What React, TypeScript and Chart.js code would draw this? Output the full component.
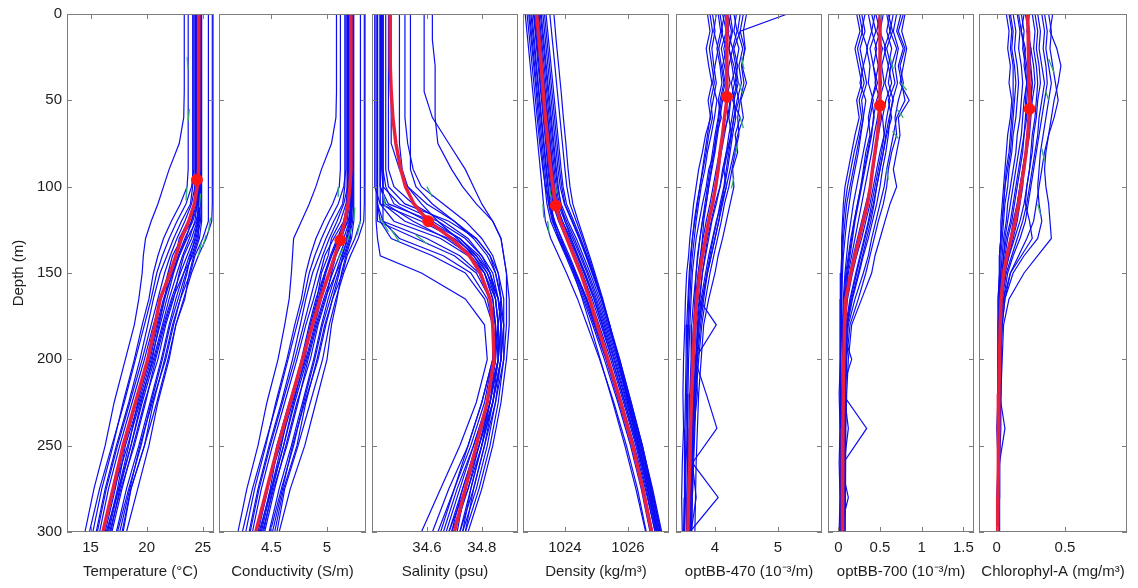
import React, { useEffect, useRef } from 'react';
import { Chart, registerables } from 'chart.js';
Chart.register(...registerables);

// ---------- depth grids ----------
const DEPTH = [0, 15, 30, 45, 60, 75, 90, 100, 110, 120, 130, 140, 150, 165, 180, 200, 225, 250, 275, 300];
const OPT_DEPTH = [0, 10, 20, 30, 40, 50, 60, 70, 80, 90, 100, 110, 120, 130, 140, 150, 165, 180, 200, 220, 240, 260, 280, 300];
const DEPTH_TICKS = [0, 50, 100, 150, 200, 250, 300];

// ---------- Temperature ----------
const TEMP_TICKS = [15, 20, 25];
const TEMP_MEAN = [24.65, 24.65, 24.65, 24.64, 24.63, 24.62, 24.58, 24.5, 24.25, 23.75, 23.1, 22.6, 22.1, 21.2, 20.75, 20.1, 19.0, 17.9, 17.0, 16.1];
const TEMP_STAR = [24.48, 96];
const TEMP_PROFILES = [
  [23.35, 23.35, 23.35, 23.35, 23.3, 22.9, 22.0, 21.5, 21.0, 20.4, 19.9, 19.7, 19.6, 19.3, 18.9, 18.1, 17.1, 16.3, 15.3, 14.5],
  [23.7, 23.7, 23.7, 23.7, 23.7, 23.7, 23.7, 23.6, 23.0, 22.2, 21.5, 21.0, 20.6, 20.2, 19.6, 18.9, 17.9, 17.0, 16.0, 15.2],
  [24.1, 24.1, 24.1, 24.1, 24.1, 24.1, 24.1, 24.1, 23.9, 23.1, 22.4, 21.8, 21.2, 20.6, 20.1, 19.4, 18.4, 17.3, 16.3, 15.5],
  [24.3, 24.3, 24.3, 24.3, 24.3, 24.3, 24.3, 24.3, 24.3, 24.0, 23.1, 22.3, 21.9, 21.3, 20.6, 19.8, 18.7, 17.6, 16.6, 15.8],
  [24.4, 24.4, 24.4, 24.4, 24.4, 24.4, 24.4, 24.4, 24.2, 23.7, 22.9, 22.6, 22.0, 21.6, 21.0, 20.3, 19.1, 18.0, 17.2, 16.3],
  [24.5, 24.5, 24.5, 24.5, 24.5, 24.5, 24.5, 24.5, 24.5, 24.3, 23.8, 23.2, 22.7, 22.0, 21.4, 20.6, 19.4, 18.3, 17.1, 16.1],
  [24.6, 24.6, 24.6, 24.6, 24.6, 24.6, 24.6, 24.6, 24.6, 24.5, 24.0, 23.3, 22.9, 22.4, 21.7, 21.0, 19.8, 18.8, 17.8, 16.9],
  [24.7, 24.7, 24.7, 24.7, 24.7, 24.7, 24.7, 24.7, 24.7, 24.7, 24.4, 23.8, 23.3, 22.6, 22.0, 21.3, 20.3, 19.3, 18.2, 17.3],
  [24.8, 24.8, 24.8, 24.8, 24.8, 24.8, 24.8, 24.8, 24.8, 24.6, 24.3, 23.9, 23.6, 23.0, 22.3, 21.6, 20.6, 19.8, 18.6, 17.8],
  [24.9, 24.9, 24.9, 24.9, 24.9, 24.9, 24.9, 24.9, 24.9, 24.9, 24.7, 24.2, 23.8, 23.4, 22.6, 22.0, 21.0, 20.2, 19.2, 18.2],
  [25.5, 25.5, 25.5, 25.5, 25.5, 25.5, 25.5, 25.5, 25.5, 25.5, 25.0, 24.3, 23.9, 23.0, 22.4, 21.7, 20.5, 19.4, 18.5, 17.6],
  [25.85, 25.85, 25.85, 25.85, 25.85, 25.85, 25.85, 25.85, 25.85, 25.8, 25.3, 24.6, 24.0, 23.3, 22.6, 21.9, 20.9, 19.8, 18.6, 17.9],
  [24.2, 24.2, 24.2, 24.2, 24.2, 24.2, 24.2, 24.0, 23.5, 22.7, 22.0, 21.4, 20.9, 20.4, 19.8, 19.0, 18.0, 16.9, 15.8, 14.9],
  [24.6, 24.6, 24.6, 24.6, 24.6, 24.6, 24.6, 24.6, 24.6, 24.6, 24.6, 24.1, 23.3, 22.3, 21.6, 20.8, 19.9, 18.9, 17.7, 16.7],
  [24.45, 24.45, 24.45, 24.45, 24.45, 24.45, 24.45, 24.45, 24.4, 24.0, 23.5, 22.9, 22.4, 21.8, 21.2, 20.4, 19.3, 18.1, 17.4, 16.5],
  [24.75, 24.75, 24.75, 24.75, 24.75, 24.75, 24.75, 24.75, 24.7, 24.4, 23.6, 22.9, 22.3, 21.5, 20.9, 20.2, 19.2, 18.4, 17.5, 16.6],
  [24.55, 24.55, 24.55, 24.55, 24.55, 24.55, 24.55, 24.55, 24.5, 24.1, 23.4, 22.8, 22.3, 21.6, 21.1, 20.5, 19.5, 18.6, 17.6, 16.8],
  [24.35, 24.35, 24.35, 24.35, 24.35, 24.35, 24.35, 24.3, 24.0, 23.4, 22.7, 22.1, 21.6, 21.0, 20.4, 19.6, 18.5, 17.4, 16.4, 15.6],
  [24.65, 24.65, 24.65, 24.65, 24.65, 24.65, 24.65, 24.65, 24.65, 24.55, 24.2, 23.6, 23.0, 22.2, 21.5, 20.7, 19.6, 18.6, 17.5, 16.4],
  [24.85, 24.85, 24.85, 24.85, 24.85, 24.85, 24.85, 24.85, 24.85, 24.8, 24.5, 24.0, 23.5, 22.8, 22.1, 21.4, 20.4, 19.5, 18.4, 17.4],
];
const TEMP_GREEN = [
  [[23.6, 25], [23.7, 32]],
  [[23.8, 55], [23.7, 62]],
  [[23.6, 100], [23.5, 108]],
  [[24.8, 104], [24.7, 112]],
  [[25.7, 118], [25.5, 126]],
  [[25.3, 128], [25.0, 135]],
  [[24.9, 132], [24.6, 140]],
];

// ---------- Conductivity ----------
const COND_TICKS = [4.5, 5];
const COND_MEAN = [5.215, 5.215, 5.215, 5.215, 5.215, 5.215, 5.21, 5.205, 5.19, 5.16, 5.12, 5.07, 5.02, 4.94, 4.87, 4.78, 4.67, 4.56, 4.46, 4.36];
const COND_STAR = [5.12, 131];
const COND_PROFILES = [
  [5.085, 5.085, 5.085, 5.085, 5.08, 5.04, 4.95, 4.90, 4.84, 4.77, 4.70, 4.69, 4.68, 4.66, 4.62, 4.56, 4.46, 4.38, 4.28, 4.20],
  [5.12, 5.12, 5.12, 5.12, 5.12, 5.12, 5.12, 5.11, 5.05, 4.97, 4.90, 4.85, 4.81, 4.77, 4.71, 4.64, 4.54, 4.45, 4.35, 4.27],
  [5.16, 5.16, 5.16, 5.16, 5.16, 5.16, 5.16, 5.16, 5.14, 5.06, 4.99, 4.93, 4.87, 4.81, 4.76, 4.69, 4.59, 4.48, 4.38, 4.30],
  [5.18, 5.18, 5.18, 5.18, 5.18, 5.18, 5.18, 5.18, 5.18, 5.15, 5.06, 4.98, 4.94, 4.88, 4.81, 4.73, 4.62, 4.51, 4.41, 4.33],
  [5.19, 5.19, 5.19, 5.19, 5.19, 5.19, 5.19, 5.19, 5.17, 5.12, 5.04, 5.01, 4.95, 4.91, 4.85, 4.78, 4.66, 4.55, 4.47, 4.38],
  [5.20, 5.20, 5.20, 5.20, 5.20, 5.20, 5.20, 5.20, 5.20, 5.18, 5.13, 5.07, 5.02, 4.95, 4.89, 4.81, 4.69, 4.58, 4.46, 4.36],
  [5.21, 5.21, 5.21, 5.21, 5.21, 5.21, 5.21, 5.21, 5.21, 5.20, 5.15, 5.08, 5.04, 4.99, 4.92, 4.85, 4.73, 4.63, 4.53, 4.44],
  [5.22, 5.22, 5.22, 5.22, 5.22, 5.22, 5.22, 5.22, 5.22, 5.22, 5.19, 5.13, 5.08, 5.01, 4.95, 4.88, 4.78, 4.68, 4.57, 4.48],
  [5.23, 5.23, 5.23, 5.23, 5.23, 5.23, 5.23, 5.23, 5.23, 5.21, 5.18, 5.14, 5.11, 5.05, 4.98, 4.91, 4.81, 4.73, 4.61, 4.53],
  [5.24, 5.24, 5.24, 5.24, 5.24, 5.24, 5.24, 5.24, 5.24, 5.24, 5.22, 5.17, 5.13, 5.09, 5.04, 5.00, 4.90, 4.80, 4.67, 4.57],
  [5.30, 5.30, 5.30, 5.30, 5.30, 5.30, 5.30, 5.30, 5.30, 5.30, 5.25, 5.18, 5.14, 5.05, 4.99, 4.92, 4.80, 4.69, 4.60, 4.51],
  [5.335, 5.335, 5.335, 5.335, 5.335, 5.335, 5.335, 5.335, 5.335, 5.33, 5.28, 5.21, 5.15, 5.08, 5.02, 4.96, 4.85, 4.74, 4.62, 4.55],
  [5.17, 5.17, 5.17, 5.17, 5.17, 5.17, 5.17, 5.15, 5.10, 5.02, 4.95, 4.89, 4.84, 4.79, 4.73, 4.65, 4.55, 4.44, 4.33, 4.24],
  [5.21, 5.21, 5.21, 5.21, 5.21, 5.21, 5.21, 5.21, 5.21, 5.21, 5.21, 5.16, 5.08, 4.98, 4.91, 4.83, 4.74, 4.64, 4.52, 4.42],
  [5.195, 5.195, 5.195, 5.195, 5.195, 5.195, 5.195, 5.195, 5.19, 5.15, 5.10, 5.04, 4.99, 4.93, 4.87, 4.79, 4.68, 4.56, 4.49, 4.40],
  [5.225, 5.225, 5.225, 5.225, 5.225, 5.225, 5.225, 5.225, 5.22, 5.19, 5.11, 5.04, 4.98, 4.90, 4.84, 4.77, 4.67, 4.59, 4.50, 4.41],
  [5.205, 5.205, 5.205, 5.205, 5.205, 5.205, 5.205, 5.205, 5.20, 5.16, 5.09, 5.03, 4.98, 4.92, 4.86, 4.80, 4.70, 4.61, 4.51, 4.43],
  [5.185, 5.185, 5.185, 5.185, 5.185, 5.185, 5.185, 5.18, 5.15, 5.09, 5.02, 4.96, 4.91, 4.85, 4.79, 4.71, 4.60, 4.49, 4.39, 4.31],
  [5.215, 5.215, 5.215, 5.215, 5.215, 5.215, 5.215, 5.215, 5.215, 5.205, 5.17, 5.11, 5.05, 4.97, 4.90, 4.82, 4.71, 4.61, 4.50, 4.39],
  [5.235, 5.235, 5.235, 5.235, 5.235, 5.235, 5.235, 5.235, 5.235, 5.23, 5.20, 5.15, 5.10, 5.03, 4.96, 4.89, 4.79, 4.70, 4.59, 4.49],
];
const COND_GREEN = [
  [[5.10, 100], [5.10, 106]],
  [[5.25, 112], [5.24, 120]],
  [[5.22, 124], [5.18, 132]],
  [[5.30, 120], [5.27, 128]],
  [[5.15, 135], [5.10, 142]],
];

// ---------- Salinity ----------
const SAL_TICKS = [34.6, 34.8];
const SAL_MEAN = [34.466, 34.466, 34.467, 34.47, 34.476, 34.487, 34.505, 34.522, 34.553, 34.605, 34.69, 34.755, 34.795, 34.83, 34.84, 34.845, 34.82, 34.78, 34.74, 34.70];
const SAL_STAR = [34.605, 120];
const SAL_PROFILES = [
  [34.62, 34.62, 34.63, 34.63, 34.63, 34.64, 34.69, 34.73, 34.78, 34.84, 34.87, 34.88, 34.89, 34.89, 34.89, 34.88, 34.86, 34.83, 34.79, 34.74],
  [34.59, 34.59, 34.59, 34.59, 34.62, 34.68, 34.74, 34.77, 34.80, 34.84, 34.87, 34.88, 34.89, 34.90, 34.90, 34.89, 34.87, 34.84, 34.80, 34.75],
  [34.54, 34.54, 34.54, 34.54, 34.54, 34.54, 34.54, 34.56, 34.62, 34.70, 34.77, 34.82, 34.85, 34.87, 34.87, 34.86, 34.82, 34.78, 34.73, 34.69],
  [34.52, 34.52, 34.52, 34.52, 34.52, 34.53, 34.55, 34.58, 34.66, 34.74, 34.80, 34.84, 34.86, 34.87, 34.86, 34.84, 34.80, 34.75, 34.70, 34.65],
  [34.42, 34.42, 34.42, 34.42, 34.42, 34.42, 34.42, 34.42, 34.42, 34.44, 34.60, 34.72, 34.79, 34.83, 34.85, 34.85, 34.82, 34.77, 34.72, 34.67],
  [34.43, 34.43, 34.43, 34.43, 34.43, 34.43, 34.43, 34.43, 34.46, 34.62, 34.72, 34.78, 34.82, 34.85, 34.86, 34.86, 34.83, 34.79, 34.74, 34.70],
  [34.44, 34.44, 34.44, 34.44, 34.44, 34.44, 34.44, 34.44, 34.44, 34.44, 34.50, 34.66, 34.76, 34.82, 34.84, 34.84, 34.80, 34.75, 34.68, 34.62],
  [34.45, 34.45, 34.45, 34.45, 34.45, 34.45, 34.45, 34.46, 34.52, 34.68, 34.78, 34.83, 34.86, 34.88, 34.88, 34.87, 34.84, 34.80, 34.76, 34.72],
  [34.415, 34.415, 34.415, 34.415, 34.415, 34.415, 34.415, 34.415, 34.415, 34.415, 34.42, 34.43, 34.58, 34.74, 34.81, 34.82, 34.78, 34.72, 34.65, 34.58],
  [34.46, 34.46, 34.46, 34.46, 34.46, 34.46, 34.46, 34.48, 34.55, 34.66, 34.75, 34.80, 34.83, 34.85, 34.86, 34.85, 34.82, 34.78, 34.74, 34.71],
  [34.43, 34.43, 34.43, 34.43, 34.43, 34.43, 34.43, 34.43, 34.43, 34.48, 34.65, 34.75, 34.81, 34.84, 34.85, 34.84, 34.81, 34.76, 34.70, 34.64],
  [34.47, 34.47, 34.47, 34.47, 34.47, 34.47, 34.50, 34.53, 34.58, 34.64, 34.71, 34.77, 34.81, 34.84, 34.85, 34.85, 34.83, 34.80, 34.76, 34.73],
  [34.44, 34.44, 34.44, 34.44, 34.44, 34.44, 34.44, 34.44, 34.44, 34.52, 34.68, 34.77, 34.82, 34.86, 34.87, 34.86, 34.83, 34.79, 34.74, 34.68],
  [34.42, 34.42, 34.42, 34.42, 34.42, 34.42, 34.42, 34.42, 34.42, 34.42, 34.56, 34.70, 34.78, 34.83, 34.85, 34.86, 34.84, 34.81, 34.77, 34.74],
  [34.41, 34.41, 34.41, 34.41, 34.41, 34.41, 34.41, 34.41, 34.43, 34.58, 34.70, 34.78, 34.83, 34.86, 34.88, 34.88, 34.85, 34.81, 34.77, 34.72],
  [34.435, 34.435, 34.435, 34.435, 34.435, 34.435, 34.435, 34.44, 34.50, 34.64, 34.74, 34.80, 34.84, 34.86, 34.87, 34.87, 34.84, 34.80, 34.75, 34.69],
  [34.43, 34.43, 34.43, 34.43, 34.43, 34.43, 34.43, 34.43, 34.45, 34.55, 34.67, 34.76, 34.81, 34.85, 34.86, 34.86, 34.83, 34.78, 34.73, 34.68],
  [34.42, 34.42, 34.42, 34.42, 34.42, 34.42, 34.42, 34.42, 34.42, 34.43, 34.47, 34.62, 34.74, 34.81, 34.84, 34.85, 34.82, 34.77, 34.71, 34.66],
  [34.50, 34.50, 34.50, 34.50, 34.50, 34.50, 34.51, 34.53, 34.60, 34.70, 34.78, 34.83, 34.85, 34.87, 34.88, 34.87, 34.84, 34.79, 34.75, 34.70],
  [34.44, 34.44, 34.44, 34.44, 34.44, 34.44, 34.44, 34.45, 34.48, 34.60, 34.72, 34.79, 34.83, 34.86, 34.87, 34.87, 34.85, 34.82, 34.78, 34.73],
];
const SAL_GREEN = [
  [[34.44, 104], [34.45, 112]],
  [[34.43, 118], [34.46, 126]],
  [[34.47, 125], [34.50, 132]],
  [[34.60, 100], [34.62, 106]],
  [[34.56, 128], [34.60, 133]],
];

// ---------- Density ----------
const DENS_TICKS = [1024, 1026];
const DENS_MEAN = [1023.10, 1023.18, 1023.25, 1023.31, 1023.38, 1023.46, 1023.55, 1023.62, 1023.70, 1023.85, 1024.06, 1024.28, 1024.50, 1024.78, 1025.02, 1025.36, 1025.77, 1026.15, 1026.47, 1026.75];
const DENS_STAR = [1023.71, 111];
const DENS_PROFILES = [
  [1022.74, 1022.82, 1022.90, 1022.98, 1023.06, 1023.14, 1023.22, 1023.27, 1023.32, 1023.38, 1023.55, 1023.80, 1024.05, 1024.40, 1024.70, 1025.10, 1025.55, 1025.95, 1026.30, 1026.58],
  [1022.85, 1022.93, 1023.01, 1023.09, 1023.16, 1023.24, 1023.32, 1023.37, 1023.43, 1023.55, 1023.78, 1024.02, 1024.25, 1024.58, 1024.88, 1025.25, 1025.68, 1026.08, 1026.42, 1026.70],
  [1022.95, 1023.03, 1023.10, 1023.18, 1023.26, 1023.34, 1023.42, 1023.47, 1023.53, 1023.66, 1023.90, 1024.14, 1024.36, 1024.70, 1024.98, 1025.35, 1025.78, 1026.17, 1026.50, 1026.78],
  [1023.02, 1023.10, 1023.18, 1023.25, 1023.33, 1023.41, 1023.49, 1023.55, 1023.62, 1023.80, 1024.04, 1024.26, 1024.48, 1024.80, 1025.08, 1025.45, 1025.86, 1026.25, 1026.58, 1026.86],
  [1023.08, 1023.16, 1023.24, 1023.32, 1023.40, 1023.47, 1023.55, 1023.60, 1023.70, 1023.92, 1024.18, 1024.40, 1024.62, 1024.92, 1025.20, 1025.55, 1025.95, 1026.33, 1026.66, 1026.95],
  [1023.15, 1023.23, 1023.30, 1023.38, 1023.46, 1023.54, 1023.62, 1023.68, 1023.78, 1024.00, 1024.25, 1024.48, 1024.70, 1025.00, 1025.28, 1025.62, 1026.02, 1026.40, 1026.72, 1027.02],
  [1023.22, 1023.30, 1023.38, 1023.46, 1023.54, 1023.62, 1023.70, 1023.76, 1023.88, 1024.10, 1024.36, 1024.58, 1024.80, 1025.10, 1025.36, 1025.70, 1026.08, 1026.45, 1026.78, 1027.07],
  [1023.30, 1023.38, 1023.46, 1023.54, 1023.62, 1023.70, 1023.78, 1023.85, 1023.98, 1024.22, 1024.45, 1024.66, 1024.86, 1025.15, 1025.40, 1025.73, 1026.10, 1026.46, 1026.76, 1027.04],
  [1023.40, 1023.48, 1023.56, 1023.64, 1023.72, 1023.80, 1023.88, 1023.94, 1024.05, 1024.28, 1024.50, 1024.70, 1024.90, 1025.16, 1025.40, 1025.70, 1026.05, 1026.40, 1026.70, 1026.98],
  [1023.52, 1023.60, 1023.68, 1023.76, 1023.84, 1023.92, 1024.00, 1024.06, 1024.16, 1024.36, 1024.56, 1024.74, 1024.92, 1025.18, 1025.42, 1025.70, 1026.02, 1026.36, 1026.66, 1026.94],
  [1023.65, 1023.72, 1023.80, 1023.88, 1023.95, 1024.03, 1024.10, 1024.16, 1024.25, 1024.42, 1024.60, 1024.78, 1024.95, 1025.20, 1025.42, 1025.68, 1026.00, 1026.32, 1026.62, 1026.90],
  [1022.80, 1022.88, 1022.96, 1023.04, 1023.12, 1023.20, 1023.30, 1023.38, 1023.50, 1023.68, 1023.88, 1024.08, 1024.28, 1024.55, 1024.80, 1025.12, 1025.52, 1025.90, 1026.25, 1026.56],
  [1023.00, 1023.08, 1023.15, 1023.23, 1023.31, 1023.39, 1023.46, 1023.52, 1023.57, 1023.64, 1023.80, 1024.05, 1024.32, 1024.68, 1024.98, 1025.38, 1025.80, 1026.20, 1026.55, 1026.86],
  [1023.12, 1023.20, 1023.28, 1023.36, 1023.44, 1023.52, 1023.60, 1023.66, 1023.74, 1023.92, 1024.14, 1024.38, 1024.60, 1024.92, 1025.18, 1025.50, 1025.90, 1026.28, 1026.62, 1026.92],
  [1022.92, 1023.00, 1023.08, 1023.16, 1023.24, 1023.32, 1023.40, 1023.46, 1023.52, 1023.62, 1023.82, 1024.06, 1024.30, 1024.62, 1024.92, 1025.30, 1025.72, 1026.12, 1026.46, 1026.76],
  [1023.25, 1023.33, 1023.41, 1023.49, 1023.57, 1023.65, 1023.73, 1023.79, 1023.86, 1024.00, 1024.20, 1024.42, 1024.64, 1024.96, 1025.24, 1025.58, 1025.98, 1026.36, 1026.68, 1026.98],
  [1023.05, 1023.13, 1023.21, 1023.28, 1023.36, 1023.44, 1023.52, 1023.58, 1023.65, 1023.84, 1024.10, 1024.33, 1024.55, 1024.86, 1025.14, 1025.50, 1025.91, 1026.30, 1026.62, 1026.90],
  [1023.18, 1023.26, 1023.34, 1023.42, 1023.50, 1023.58, 1023.66, 1023.72, 1023.82, 1024.05, 1024.30, 1024.52, 1024.74, 1025.05, 1025.32, 1025.66, 1026.05, 1026.42, 1026.74, 1027.03],
  [1022.88, 1022.96, 1023.04, 1023.12, 1023.20, 1023.28, 1023.36, 1023.42, 1023.48, 1023.60, 1023.84, 1024.10, 1024.34, 1024.66, 1024.95, 1025.32, 1025.74, 1026.14, 1026.48, 1026.77],
  [1023.35, 1023.43, 1023.51, 1023.59, 1023.67, 1023.75, 1023.83, 1023.90, 1024.00, 1024.24, 1024.47, 1024.68, 1024.88, 1025.17, 1025.42, 1025.74, 1026.10, 1026.45, 1026.75, 1027.02],
];
const DENS_GREEN = [
  [[1023.50, 100], [1023.55, 106]],
  [[1023.30, 110], [1023.33, 118]],
  [[1023.45, 120], [1023.50, 127]],
  [[1023.70, 98], [1023.72, 104]],
];

// ---------- optBB-470 ----------
const B470_TICKS = [4, 5];
const B470_MEAN = [4.19, 4.19, 4.19, 4.19, 4.19, 4.18, 4.15, 4.12, 4.08, 4.05, 4.01, 3.96, 3.90, 3.85, 3.80, 3.76, 3.71, 3.68, 3.65, 3.63, 3.61, 3.60, 3.58, 3.57];
const B470_STAR = [4.19, 48];
const B470_PROFILES = [
  [3.88, 3.92, 3.86, 3.90, 3.95, 3.89, 3.93, 3.85, 3.80, 3.74, 3.70, 3.66, 3.63, 3.60, 3.58, 3.55, 3.53, 3.52, 3.50, 3.49, 3.50, 3.48, 3.47, 3.48],
  [4.02, 3.98, 4.05, 4.00, 3.96, 4.03, 3.99, 3.94, 3.88, 3.84, 3.78, 3.74, 3.70, 3.67, 3.64, 3.62, 3.60, 3.58, 3.56, 3.55, 3.56, 3.54, 3.53, 3.52],
  [4.12, 4.18, 4.10, 4.15, 4.20, 4.12, 4.08, 4.04, 4.00, 3.95, 3.90, 3.86, 3.80, 3.76, 3.72, 3.70, 3.66, 3.63, 3.62, 3.60, 3.59, 3.58, 3.56, 3.55],
  [4.25, 4.20, 4.28, 4.22, 4.18, 4.24, 4.20, 4.15, 4.10, 4.06, 4.02, 3.96, 3.90, 3.84, 3.79, 3.75, 3.71, 3.67, 3.64, 3.62, 3.60, 3.60, 3.58, 3.57],
  [4.30, 4.35, 4.28, 4.33, 4.26, 4.31, 4.27, 4.22, 4.18, 4.12, 4.08, 4.02, 3.95, 3.90, 3.85, 3.80, 3.75, 3.70, 3.67, 3.65, 3.63, 3.62, 3.60, 3.59],
  [4.40, 4.36, 4.44, 4.38, 4.42, 4.35, 4.30, 4.26, 4.22, 4.18, 4.14, 4.08, 4.03, 3.97, 3.92, 3.87, 3.80, 3.75, 3.71, 3.68, 3.66, 3.64, 3.62, 3.61],
  [4.50, 4.45, 4.48, 4.42, 4.46, 4.40, 4.36, 4.38, 4.32, 4.27, 4.22, 4.15, 4.10, 4.04, 3.98, 3.92, 3.85, 3.79, 3.74, 3.70, 3.68, 3.66, 3.64, 3.63],
  [4.08, 4.12, 4.06, 4.10, 4.14, 4.08, 4.05, 4.00, 3.96, 3.92, 3.88, 3.84, 3.80, 3.76, 3.73, 3.70, 3.68, 3.66, 3.64, 3.63, 3.62, 3.61, 3.60, 3.60],
  [4.20, 4.26, 4.22, 4.30, 4.35, 4.28, 4.40, 4.32, 4.36, 4.28, 4.30, 4.24, 4.18, 4.12, 4.05, 4.00, 3.90, 3.82, 3.78, 3.74, 3.72, 3.70, 3.69, 3.68],
  [3.96, 4.00, 3.95, 3.98, 4.02, 3.97, 3.92, 3.88, 3.84, 3.80, 3.76, 3.72, 3.68, 3.64, 3.62, 3.60, 3.58, 3.57, 3.56, 3.55, 3.54, 3.53, 3.52, 3.51],
  [5.15, 4.40, 4.30, 4.36, 4.32, 4.38, 4.30, 4.25, 4.20, 4.14, 4.08, 4.00, 3.94, 3.88, 3.84, 3.80, 3.76, 3.72, 3.70, 3.72, 3.66, 3.64, 3.70, 3.62],
  [4.15, 4.10, 4.18, 4.12, 4.16, 4.10, 4.06, 4.02, 3.98, 3.94, 3.90, 3.86, 3.82, 3.80, 3.77, 3.74, 3.74, 4.02, 3.68, 3.86, 4.03, 3.64, 4.05, 3.60],
  [4.05, 4.09, 4.03, 4.08, 4.11, 4.05, 4.10, 4.02, 3.99, 3.90, 3.86, 3.80, 3.75, 3.70, 3.67, 3.64, 3.62, 3.60, 3.58, 3.57, 3.57, 3.56, 3.55, 3.55],
  [4.34, 4.30, 4.38, 4.33, 4.37, 4.30, 4.33, 4.28, 4.24, 4.20, 4.15, 4.10, 4.06, 4.00, 3.94, 3.88, 3.82, 3.77, 3.72, 3.69, 3.67, 3.65, 3.64, 3.62],
  [4.16, 4.22, 4.14, 4.19, 4.24, 4.17, 4.21, 4.13, 4.07, 4.02, 3.97, 3.92, 3.86, 3.81, 3.77, 3.73, 3.69, 3.66, 3.63, 3.61, 3.60, 3.59, 3.58, 3.57],
  [4.45, 4.40, 4.47, 4.43, 4.50, 4.41, 4.45, 4.36, 4.30, 4.24, 4.18, 4.12, 4.06, 4.00, 3.94, 3.88, 3.80, 3.74, 3.70, 3.67, 3.65, 3.64, 3.62, 3.61],
  [3.92, 3.96, 3.91, 3.95, 3.99, 3.93, 3.96, 3.90, 3.86, 3.81, 3.76, 3.71, 3.67, 3.64, 3.61, 3.59, 3.57, 3.55, 3.54, 3.53, 3.52, 3.52, 3.51, 3.50],
  [4.24, 4.28, 4.22, 4.27, 4.31, 4.25, 4.22, 4.26, 4.18, 4.14, 4.18, 4.10, 4.02, 3.96, 3.90, 3.85, 3.78, 3.73, 3.69, 3.66, 3.64, 3.63, 3.61, 3.60],
];
const B470_GREEN = [
  [[4.42, 25], [4.46, 32]],
  [[4.38, 40], [4.44, 46]],
  [[4.40, 60], [4.45, 66]],
  [[4.36, 75], [4.32, 82]],
  [[4.30, 95], [4.26, 101]],
];

// ---------- optBB-700 ----------
const B700_TICKS = [0, 0.5, 1, 1.5];
const B700_MEAN = [0.50, 0.50, 0.50, 0.50, 0.50, 0.50, 0.49, 0.47, 0.44, 0.41, 0.385, 0.35, 0.30, 0.25, 0.20, 0.15, 0.09, 0.075, 0.066, 0.06, 0.055, 0.052, 0.05, 0.047];
const B700_STAR = [0.50, 53];
const B700_PROFILES = [
  [0.22, 0.26, 0.20, 0.24, 0.28, 0.22, 0.25, 0.20, 0.16, 0.12, 0.08, 0.06, 0.05, 0.04, 0.04, 0.03, 0.03, 0.02, 0.02, 0.01, 0.02, 0.01, 0.02, 0.01],
  [0.32, 0.28, 0.35, 0.30, 0.26, 0.33, 0.30, 0.27, 0.24, 0.20, 0.16, 0.13, 0.10, 0.08, 0.06, 0.05, 0.04, 0.04, 0.03, 0.03, 0.03, 0.02, 0.03, 0.02],
  [0.40, 0.45, 0.38, 0.42, 0.47, 0.40, 0.36, 0.38, 0.33, 0.30, 0.27, 0.23, 0.19, 0.15, 0.12, 0.09, 0.07, 0.06, 0.05, 0.05, 0.04, 0.04, 0.04, 0.04],
  [0.50, 0.46, 0.53, 0.48, 0.44, 0.50, 0.47, 0.43, 0.40, 0.36, 0.32, 0.28, 0.24, 0.20, 0.16, 0.12, 0.09, 0.07, 0.06, 0.06, 0.05, 0.05, 0.05, 0.05],
  [0.58, 0.62, 0.55, 0.60, 0.64, 0.57, 0.53, 0.55, 0.50, 0.46, 0.42, 0.38, 0.33, 0.28, 0.22, 0.17, 0.11, 0.08, 0.07, 0.06, 0.06, 0.06, 0.05, 0.05],
  [0.66, 0.62, 0.70, 0.64, 0.68, 0.60, 0.64, 0.58, 0.54, 0.50, 0.46, 0.42, 0.37, 0.32, 0.27, 0.22, 0.15, 0.10, 0.08, 0.07, 0.07, 0.06, 0.06, 0.06],
  [0.75, 0.70, 0.78, 0.72, 0.76, 0.80, 0.70, 0.66, 0.62, 0.58, 0.55, 0.50, 0.45, 0.40, 0.36, 0.30, 0.20, 0.12, 0.09, 0.08, 0.08, 0.07, 0.07, 0.07],
  [0.80, 0.76, 0.82, 0.78, 0.74, 0.85, 0.72, 0.74, 0.70, 0.66, 0.70, 0.62, 0.56, 0.50, 0.44, 0.40, 0.28, 0.16, 0.12, 0.10, 0.09, 0.09, 0.08, 0.08],
  [0.45, 0.50, 0.44, 0.48, 0.52, 0.46, 0.42, 0.40, 0.36, 0.32, 0.28, 0.24, 0.20, 0.17, 0.14, 0.11, 0.09, 0.07, 0.06, 0.05, 0.34, 0.06, 0.05, 0.05],
  [0.36, 0.40, 0.34, 0.38, 0.36, 0.42, 0.38, 0.34, 0.30, 0.26, 0.22, 0.18, 0.15, 0.12, 0.10, 0.08, 0.06, 0.05, 0.05, 0.04, 0.04, 0.04, 0.04, 0.03],
  [0.62, 0.58, 0.64, 0.60, 0.56, 0.62, 0.58, 0.55, 0.52, 0.48, 0.44, 0.40, 0.36, 0.31, 0.26, 0.21, 0.14, 0.09, 0.08, 0.07, 0.12, 0.07, 0.06, 0.06],
  [0.28, 0.32, 0.26, 0.30, 0.34, 0.28, 0.30, 0.26, 0.22, 0.18, 0.14, 0.10, 0.08, 0.06, 0.05, 0.04, 0.04, 0.03, 0.16, 0.03, 0.03, 0.03, 0.12, 0.02],
  [0.54, 0.50, 0.57, 0.52, 0.55, 0.49, 0.52, 0.48, 0.45, 0.42, 0.38, 0.33, 0.28, 0.23, 0.18, 0.14, 0.10, 0.08, 0.07, 0.06, 0.06, 0.05, 0.05, 0.05],
  [0.70, 0.66, 0.72, 0.68, 0.71, 0.65, 0.62, 0.60, 0.57, 0.53, 0.50, 0.46, 0.41, 0.36, 0.30, 0.25, 0.17, 0.11, 0.09, 0.08, 0.07, 0.07, 0.06, 0.06],
  [0.44, 0.40, 0.46, 0.42, 0.45, 0.40, 0.43, 0.39, 0.35, 0.31, 0.27, 0.23, 0.19, 0.16, 0.13, 0.10, 0.08, 0.06, 0.05, 0.05, 0.05, 0.04, 0.04, 0.04],
  [0.60, 0.65, 0.58, 0.63, 0.60, 0.66, 0.61, 0.57, 0.54, 0.50, 0.46, 0.43, 0.39, 0.34, 0.29, 0.24, 0.16, 0.10, 0.08, 0.07, 0.07, 0.06, 0.06, 0.06],
  [0.25, 0.29, 0.23, 0.27, 0.31, 0.25, 0.28, 0.24, 0.19, 0.15, 0.11, 0.08, 0.06, 0.05, 0.04, 0.04, 0.03, 0.03, 0.02, 0.02, 0.02, 0.02, 0.02, 0.02],
  [0.78, 0.72, 0.80, 0.74, 0.78, 0.72, 0.68, 0.70, 0.64, 0.60, 0.58, 0.54, 0.48, 0.43, 0.38, 0.33, 0.24, 0.14, 0.10, 0.09, 0.08, 0.08, 0.07, 0.07],
];
const B700_GREEN = [
  [[0.62, 25], [0.66, 32]],
  [[0.75, 40], [0.82, 44]],
  [[0.70, 55], [0.78, 60]],
  [[0.65, 68], [0.72, 72]],
  [[0.58, 90], [0.60, 96]],
];

// ---------- Chlorophyll-A ----------
const CHL_TICKS = [0, 0.5];
const CHL_MEAN = [0.226, 0.23, 0.232, 0.235, 0.237, 0.239, 0.236, 0.228, 0.215, 0.198, 0.178, 0.16, 0.135, 0.105, 0.075, 0.05, 0.032, 0.025, 0.02, 0.016, 0.013, 0.011, 0.009, 0.007];
const CHL_STAR = [0.24, 55];
const CHL_PROFILES = [
  [0.07, 0.09, 0.08, 0.10, 0.09, 0.11, 0.10, 0.08, 0.07, 0.06, 0.05, 0.04, 0.03, 0.03, 0.02, 0.02, 0.01, 0.01, 0.01, 0.01, 0.00, 0.01, 0.00, 0.00],
  [0.12, 0.14, 0.13, 0.15, 0.16, 0.15, 0.14, 0.12, 0.11, 0.09, 0.08, 0.06, 0.05, 0.04, 0.03, 0.03, 0.02, 0.02, 0.01, 0.01, 0.01, 0.01, 0.01, 0.00],
  [0.18, 0.20, 0.19, 0.21, 0.22, 0.20, 0.19, 0.18, 0.16, 0.14, 0.12, 0.10, 0.08, 0.06, 0.05, 0.04, 0.03, 0.02, 0.02, 0.02, 0.01, 0.01, 0.01, 0.01],
  [0.24, 0.22, 0.25, 0.24, 0.26, 0.25, 0.24, 0.23, 0.21, 0.19, 0.17, 0.15, 0.12, 0.10, 0.07, 0.05, 0.03, 0.03, 0.02, 0.02, 0.02, 0.01, 0.01, 0.01],
  [0.28, 0.30, 0.29, 0.31, 0.32, 0.30, 0.29, 0.27, 0.26, 0.24, 0.22, 0.20, 0.17, 0.13, 0.09, 0.06, 0.04, 0.03, 0.02, 0.02, 0.02, 0.02, 0.01, 0.01],
  [0.33, 0.35, 0.34, 0.36, 0.37, 0.35, 0.33, 0.31, 0.29, 0.27, 0.25, 0.23, 0.21, 0.17, 0.12, 0.08, 0.05, 0.03, 0.03, 0.02, 0.02, 0.02, 0.02, 0.01],
  [0.38, 0.40, 0.39, 0.41, 0.43, 0.45, 0.42, 0.38, 0.35, 0.33, 0.31, 0.29, 0.27, 0.22, 0.16, 0.10, 0.06, 0.04, 0.03, 0.03, 0.02, 0.02, 0.02, 0.02],
  [0.41, 0.39, 0.44, 0.47, 0.45, 0.42, 0.40, 0.38, 0.36, 0.35, 0.36, 0.38, 0.39, 0.40, 0.30, 0.20, 0.09, 0.05, 0.04, 0.03, 0.03, 0.02, 0.02, 0.02],
  [0.15, 0.17, 0.16, 0.18, 0.19, 0.18, 0.17, 0.15, 0.14, 0.12, 0.10, 0.08, 0.07, 0.05, 0.04, 0.03, 0.02, 0.02, 0.02, 0.01, 0.01, 0.01, 0.01, 0.01],
  [0.21, 0.23, 0.25, 0.27, 0.28, 0.26, 0.25, 0.24, 0.22, 0.20, 0.19, 0.17, 0.15, 0.12, 0.09, 0.06, 0.04, 0.03, 0.02, 0.02, 0.06, 0.02, 0.01, 0.01],
  [0.26, 0.28, 0.27, 0.29, 0.30, 0.29, 0.28, 0.26, 0.25, 0.24, 0.22, 0.21, 0.24, 0.26, 0.18, 0.10, 0.05, 0.03, 0.03, 0.02, 0.02, 0.02, 0.02, 0.01],
  [0.10, 0.12, 0.11, 0.13, 0.14, 0.13, 0.12, 0.11, 0.10, 0.08, 0.06, 0.05, 0.04, 0.03, 0.02, 0.02, 0.02, 0.01, 0.01, 0.01, 0.01, 0.01, 0.01, 0.01],
  [0.20, 0.18, 0.21, 0.20, 0.22, 0.21, 0.22, 0.20, 0.19, 0.17, 0.15, 0.13, 0.11, 0.08, 0.06, 0.04, 0.03, 0.02, 0.02, 0.01, 0.01, 0.01, 0.01, 0.01],
  [0.30, 0.32, 0.31, 0.33, 0.35, 0.33, 0.31, 0.30, 0.28, 0.26, 0.24, 0.22, 0.19, 0.15, 0.11, 0.07, 0.04, 0.03, 0.03, 0.02, 0.02, 0.02, 0.02, 0.01],
  [0.16, 0.18, 0.20, 0.22, 0.23, 0.22, 0.21, 0.20, 0.18, 0.16, 0.14, 0.12, 0.10, 0.07, 0.05, 0.04, 0.03, 0.02, 0.02, 0.01, 0.01, 0.01, 0.01, 0.01],
  [0.35, 0.37, 0.36, 0.38, 0.40, 0.38, 0.36, 0.34, 0.32, 0.31, 0.30, 0.31, 0.33, 0.30, 0.20, 0.12, 0.06, 0.04, 0.03, 0.03, 0.02, 0.02, 0.02, 0.02],
  [0.22, 0.24, 0.23, 0.25, 0.26, 0.25, 0.24, 0.22, 0.21, 0.19, 0.17, 0.15, 0.13, 0.10, 0.07, 0.05, 0.03, 0.02, 0.02, 0.02, 0.01, 0.01, 0.01, 0.01],
  [0.09, 0.11, 0.10, 0.12, 0.12, 0.12, 0.11, 0.10, 0.09, 0.07, 0.06, 0.05, 0.04, 0.03, 0.02, 0.02, 0.01, 0.01, 0.01, 0.01, 0.01, 0.01, 0.01, 0.00],
];
const CHL_GREEN = [
  [[0.38, 26], [0.42, 34]],
  [[0.36, 45], [0.38, 50]],
  [[0.33, 78], [0.35, 85]],
  [[0.30, 110], [0.32, 116]],
];

// ---------- panel definitions ----------
type Panel = {
  title: string; left: number; right: number; min: number; max: number; ticks: number[];
  depths: number[]; profiles: number[][]; mean: number[]; star: number[]; green: number[][][];
};

const PANELS: Panel[] = [
  { title: 'Temperature (°C)', left: 67, right: 214, min: 12.9, max: 26.0, ticks: TEMP_TICKS, depths: DEPTH, profiles: TEMP_PROFILES, mean: TEMP_MEAN, star: TEMP_STAR, green: TEMP_GREEN },
  { title: 'Conductivity (S/m)', left: 219, right: 366, min: 4.03, max: 5.35, ticks: COND_TICKS, depths: DEPTH, profiles: COND_PROFILES, mean: COND_MEAN, star: COND_STAR, green: COND_GREEN },
  { title: 'Salinity (psu)', left: 372, right: 518, min: 34.40, max: 34.932, ticks: SAL_TICKS, depths: DEPTH, profiles: SAL_PROFILES, mean: SAL_MEAN, star: SAL_STAR, green: SAL_GREEN },
  { title: 'Density (kg/m³)', left: 523, right: 669, min: 1022.67, max: 1027.3, ticks: DENS_TICKS, depths: DEPTH, profiles: DENS_PROFILES, mean: DENS_MEAN, star: DENS_STAR, green: DENS_GREEN },
  { title: 'optBB-470 (10⁻³/m)', left: 676, right: 822, min: 3.38, max: 5.70, ticks: B470_TICKS, depths: OPT_DEPTH, profiles: B470_PROFILES, mean: B470_MEAN, star: B470_STAR, green: B470_GREEN },
  { title: 'optBB-700 (10⁻³/m)', left: 828, right: 974, min: -0.124, max: 1.628, ticks: B700_TICKS, depths: OPT_DEPTH, profiles: B700_PROFILES, mean: B700_MEAN, star: B700_STAR, green: B700_GREEN },
  { title: 'Chlorophyl-A (mg/m³)', left: 979, right: 1127, min: -0.13, max: 0.954, ticks: CHL_TICKS, depths: OPT_DEPTH, profiles: CHL_PROFILES, mean: CHL_MEAN, star: CHL_STAR, green: CHL_GREEN },
];

const FONT = "'Liberation Sans', Arial, Helvetica, sans-serif";
const BLUE = '#0c0cf2';
const GREEN = '#2fae6a';
const RED = '#e8203f';
const STAR_RED = '#ff1414';
const FRAME = '#7d7d7d';
const TEXT = '#1e1e1e';

const framePlugin = {
  id: 'frame',
  afterDatasetsDraw(chart: any, _args: any, opts: any) {
    const { ctx, chartArea } = chart;
    const { left, right, top, bottom } = chartArea;
    const xs = chart.scales.x;
    const ys = chart.scales.y;
    const tl = 5;
    ctx.save();
    ctx.strokeStyle = FRAME;
    ctx.lineWidth = 1;
    ctx.beginPath();
    (opts.xticks || []).forEach((v: number) => {
      const px = Math.round(xs.getPixelForValue(v)) + 0.5;
      ctx.moveTo(px, bottom);
      ctx.lineTo(px, bottom - tl);
      ctx.moveTo(px, top);
      ctx.lineTo(px, top + tl);
    });
    (opts.yticks || []).forEach((v: number) => {
      const py = Math.round(ys.getPixelForValue(v)) + 0.5;
      ctx.moveTo(left, py);
      ctx.lineTo(left + tl, py);
      ctx.moveTo(right, py);
      ctx.lineTo(right - tl, py);
    });
    ctx.stroke();
    ctx.strokeRect(left + 0.5, top + 0.5, right - left - 1, bottom - top - 1);
    ctx.restore();
  },
};

function PanelChart({ p, first }: { p: Panel; first: boolean }) {
  const ref = useRef<HTMLCanvasElement>(null);
  const padL = first ? p.left : 40;
  const padR = 40;
  const w = padL + (p.right - p.left) + padR;

  useEffect(() => {
    if (!ref.current) return;
    const toPts = (vals: number[]) => p.depths.map((d, i) => ({ x: vals[i], y: d }));
    const datasets: any[] = [];
    datasets.push({
      data: [{ x: p.star[0], y: p.star[1] }],
      showLine: false, pointRadius: 5.5, pointStyle: 'circle',
      pointBackgroundColor: STAR_RED, pointBorderColor: STAR_RED, order: 0, clip: 0,
    });
    datasets.push({
      data: toPts(p.mean), showLine: true, borderColor: RED, borderWidth: 3.5,
      pointRadius: 0, tension: 0, order: 1, clip: 0,
    });
    p.green.forEach((seg) => {
      datasets.push({
        data: seg.map(([v, d]) => ({ x: v, y: d })), showLine: true, borderColor: GREEN,
        borderWidth: 1.3, pointRadius: 0, order: 2, clip: 0,
      });
    });
    p.profiles.forEach((prof) => {
      datasets.push({
        data: toPts(prof), showLine: true, borderColor: BLUE, borderWidth: 1.2,
        pointRadius: 0, tension: 0, order: 3, clip: 0,
      });
    });

    const chart = new Chart(ref.current, {
      type: 'scatter',
      data: { datasets },
      options: {
        responsive: false,
        animation: false,
        devicePixelRatio: 1,
        events: [],
        layout: { padding: { left: first ? 0 : padL, right: padR, top: 14, bottom: 0 } },
        plugins: {
          legend: { display: false },
          tooltip: { enabled: false },
          frame: { xticks: p.ticks, yticks: DEPTH_TICKS },
        } as any,
        scales: {
          x: {
            type: 'linear', position: 'bottom', min: p.min, max: p.max,
            afterBuildTicks: (s: any) => { s.ticks = p.ticks.map((v) => ({ value: v })); },
            afterFit: (s: any) => { s.height = 56; },
            grid: { display: false, drawTicks: false },
            border: { display: false },
            ticks: {
              padding: 7, color: TEXT, autoSkip: false, maxRotation: 0,
              font: { family: FONT, size: 15 },
              callback: (v: any) => String(v),
            },
            title: {
              display: true, text: p.title, color: TEXT,
              font: { family: FONT, size: 15 }, padding: { top: 0, bottom: 7 },
            },
          },
          y: {
            type: 'linear', reverse: true, min: 0, max: 300, display: first,
            afterBuildTicks: (s: any) => { s.ticks = DEPTH_TICKS.map((v) => ({ value: v })); },
            afterFit: (s: any) => { s.width = first ? p.left : 0; },
            grid: { display: false, drawTicks: false },
            border: { display: false },
            ticks: {
              padding: 5, color: TEXT, autoSkip: false,
              font: { family: FONT, size: 15 },
              callback: (v: any) => String(v),
            },
            title: {
              display: true, text: 'Depth (m)', color: TEXT,
              font: { family: FONT, size: 15 }, padding: { top: 10, bottom: 0 },
            },
          },
        },
      } as any,
      plugins: [framePlugin],
    });
    return () => chart.destroy();
  }, []);

  return (
    <canvas
      ref={ref}
      width={w}
      height={588}
      style={{ position: 'absolute', left: p.left - padL, top: 0, width: w, height: 588 }}
    />
  );
}

export default function App() {
  return (
    <div style={{ position: 'absolute', left: 0, top: 0, width: 1138, height: 588, background: '#ffffff', overflow: 'hidden' }}>
      {PANELS.map((p, i) => (
        <PanelChart key={i} p={p} first={i === 0} />
      ))}
    </div>
  );
}
